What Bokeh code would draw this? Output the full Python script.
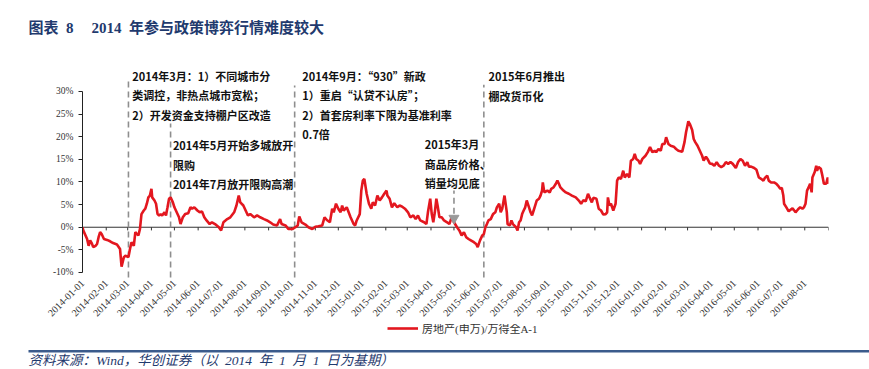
import math
import pandas as pd
from bokeh.plotting import figure
from bokeh.layouts import column
from bokeh.models import (Label, Range1d, FixedTicker, DatetimeTickFormatter,
                          PrintfTickFormatter, Legend, LegendItem)
from bokeh.embed import file_html
from bokeh.resources import INLINE

# ---------------- data ----------------
dates = [
    "2014-01-01", "2014-01-02", "2014-01-07", "2014-01-09", "2014-01-11", "2014-01-13", "2014-01-15", "2014-01-18",
    "2014-01-20", "2014-01-22", "2014-01-24", "2014-01-26", "2014-01-29", "2014-02-02", "2014-02-06", "2014-02-10",
    "2014-02-15", "2014-02-17", "2014-02-19", "2014-02-21", "2014-02-24", "2014-02-26", "2014-03-02", "2014-03-04",
    "2014-03-06", "2014-03-09", "2014-03-11", "2014-03-13", "2014-03-15", "2014-03-17", "2014-03-19", "2014-03-22",
    "2014-03-24", "2014-03-26", "2014-03-28", "2014-03-30", "2014-04-01", "2014-04-02", "2014-04-05", "2014-04-07",
    "2014-04-09", "2014-04-11", "2014-04-13", "2014-04-15", "2014-04-18", "2014-04-20", "2014-04-22", "2014-04-24",
    "2014-04-26", "2014-04-29", "2014-05-01", "2014-05-04", "2014-05-07", "2014-05-09", "2014-05-12", "2014-05-15",
    "2014-05-19", "2014-05-22", "2014-05-24", "2014-05-27", "2014-05-31", "2014-06-03", "2014-06-06", "2014-06-09",
    "2014-06-12", "2014-06-16", "2014-06-19", "2014-06-23", "2014-06-28", "2014-07-01", "2014-07-04", "2014-07-09",
    "2014-07-13", "2014-07-18", "2014-07-21", "2014-07-24", "2014-07-26", "2014-07-30", "2014-08-02", "2014-08-05",
    "2014-08-08", "2014-08-13", "2014-08-17", "2014-08-21", "2014-08-26", "2014-08-30", "2014-09-03", "2014-09-07",
    "2014-09-12", "2014-09-16", "2014-09-18", "2014-09-23", "2014-09-27", "2014-10-02", "2014-10-06", "2014-10-09",
    "2014-10-11", "2014-10-14", "2014-10-19", "2014-10-23", "2014-10-28", "2014-11-01", "2014-11-05", "2014-11-10",
    "2014-11-13", "2014-11-16", "2014-11-20", "2014-11-23", "2014-11-25", "2014-11-28", "2014-12-01", "2014-12-04",
    "2014-12-06", "2014-12-08", "2014-12-12", "2014-12-17", "2014-12-21", "2014-12-23", "2014-12-25", "2014-12-29",
    "2014-12-31", "2015-01-02", "2015-01-04", "2015-01-07", "2015-01-10", "2015-01-13", "2015-01-15", "2015-01-18",
    "2015-01-21", "2015-01-24", "2015-01-27", "2015-01-30", "2015-02-02", "2015-02-03", "2015-02-06", "2015-02-09",
    "2015-02-12", "2015-02-16", "2015-02-19", "2015-02-22", "2015-02-26", "2015-03-02", "2015-03-05", "2015-03-09",
    "2015-03-12", "2015-03-15", "2015-03-18", "2015-03-23", "2015-03-26", "2015-03-28", "2015-03-31", "2015-04-02",
    "2015-04-04", "2015-04-06", "2015-04-08", "2015-04-10", "2015-04-12", "2015-04-15", "2015-04-18", "2015-04-22",
    "2015-04-25", "2015-04-28", "2015-05-01", "2015-05-05", "2015-05-08", "2015-05-11", "2015-05-14", "2015-05-17",
    "2015-05-20", "2015-05-23", "2015-05-27", "2015-05-30", "2015-06-01", "2015-06-04", "2015-06-07", "2015-06-09",
    "2015-06-11", "2015-06-13", "2015-06-15", "2015-06-18", "2015-06-21", "2015-06-24", "2015-06-26", "2015-06-29",
    "2015-07-01", "2015-07-03", "2015-07-06", "2015-07-09", "2015-07-10", "2015-07-13", "2015-07-15", "2015-07-17",
    "2015-07-21", "2015-07-23", "2015-07-25", "2015-07-27", "2015-07-29", "2015-07-31", "2015-08-02", "2015-08-04",
    "2015-08-07", "2015-08-09", "2015-08-11", "2015-08-13", "2015-08-15", "2015-08-17", "2015-08-20", "2015-08-22",
    "2015-08-24", "2015-08-25", "2015-08-27", "2015-08-31", "2015-09-03", "2015-09-05", "2015-09-08", "2015-09-11",
    "2015-09-13", "2015-09-15", "2015-09-17", "2015-09-21", "2015-09-24", "2015-09-28", "2015-10-02", "2015-10-07",
    "2015-10-11", "2015-10-14", "2015-10-17", "2015-10-20", "2015-10-23", "2015-10-25", "2015-10-28", "2015-10-30",
    "2015-11-03", "2015-11-06", "2015-11-09", "2015-11-12", "2015-11-15", "2015-11-17", "2015-11-18", "2015-11-20",
    "2015-11-22", "2015-11-25", "2015-11-28", "2015-11-30", "2015-12-02", "2015-12-05", "2015-12-08", "2015-12-10",
    "2015-12-13", "2015-12-16", "2015-12-18", "2015-12-21", "2015-12-23", "2015-12-25", "2015-12-28", "2015-12-30",
    "2016-01-02", "2016-01-06", "2016-01-09", "2016-01-12", "2016-01-15", "2016-01-18", "2016-01-20", "2016-01-23",
    "2016-01-26", "2016-01-28", "2016-01-31", "2016-02-02", "2016-02-05", "2016-02-08", "2016-02-12", "2016-02-15",
    "2016-02-18", "2016-02-23", "2016-02-26", "2016-02-28", "2016-03-02", "2016-03-04", "2016-03-07", "2016-03-09",
    "2016-03-11", "2016-03-14", "2016-03-17", "2016-03-20", "2016-03-22", "2016-03-25", "2016-03-27", "2016-03-30",
    "2016-04-02", "2016-04-05", "2016-04-08", "2016-04-11", "2016-04-14", "2016-04-17", "2016-04-20", "2016-04-23",
    "2016-04-26", "2016-04-29", "2016-05-03", "2016-05-06", "2016-05-09", "2016-05-12", "2016-05-15", "2016-05-18",
    "2016-05-20", "2016-05-23", "2016-05-27", "2016-05-30", "2016-06-02", "2016-06-05", "2016-06-08", "2016-06-10",
    "2016-06-13", "2016-06-15", "2016-06-18", "2016-06-22", "2016-06-25", "2016-06-27", "2016-06-30", "2016-07-02",
    "2016-07-04", "2016-07-05", "2016-07-08", "2016-07-11", "2016-07-13", "2016-07-16", "2016-07-20", "2016-07-22",
    "2016-07-24", "2016-07-26", "2016-07-29", "2016-07-31", "2016-08-02", "2016-08-04", "2016-08-06", "2016-08-08",
    "2016-08-10", "2016-08-11", "2016-08-14", "2016-08-16", "2016-08-17", "2016-08-19", "2016-08-22", "2016-08-24",
    "2016-08-26", "2016-08-29", "2016-08-31", "2016-09-01",
]
ratio = [
    0.0, -0.7, -2.6, -4.1, -2.9, -3.5, -4.4, -4.1,
    -3.7, -2.2, -1.1, -1.5, -2.6, -2.8, -3.1, -3.5,
    -3.8, -4.3, -4.8, -8.7, -6.6, -6.3, -6.6, -4.8,
    -3.3, -4.1, -1.1, -1.5, -1.8, -0.4, 2.9, 3.7,
    4.1, 5.2, 6.6, 7.0, 8.5, 6.6, 5.9, 5.2,
    2.9, 2.6, 2.9, 2.6, 3.3, 2.6, 4.4, 6.3,
    6.6, 5.5, 4.4, 3.3, 2.2, 0.7, 2.2, 2.9,
    3.1, 4.4, 4.1, 4.4, 3.7, 3.3, 3.5, 2.2,
    1.5, 0.7, 1.1, 0.7, 0.0, -0.7, 1.1, 1.8,
    2.2, 3.3, 4.8, 7.0, 5.5, 4.8, 3.7, 2.6,
    2.9, 2.2, 2.6, 2.2, 1.8, 1.5, 1.1, 0.6,
    0.4, 1.8, 0.7, 0.4, -0.4, -0.4, 0.0, 0.4,
    2.4, 1.1, 0.6, 0.0, -0.4, 0.1, 0.2, 0.4,
    2.2, 1.6, 1.1, 4.1, 3.3, 5.2, 4.1, 3.3,
    4.8, 3.7, 4.4, 2.2, 0.7, 0.4, 1.5, 2.9,
    8.1, 10.3, 10.7, 7.4, 5.2, 4.1, 5.5, 4.8,
    7.0, 5.9, 6.6, 7.4, 8.1, 7.0, 6.3, 4.4,
    5.3, 4.4, 4.8, 4.6, 4.1, 3.3, 2.2, 2.6,
    1.8, 2.6, 1.5, 1.1, 0.7, 3.3, 6.3, 2.9,
    1.1, 3.3, 6.3, 4.4, 2.2, 2.2, 1.5, 1.1,
    0.7, 2.2, 1.1, 0.0, -0.7, -1.8, -1.1, -2.2,
    -2.6, -2.9, -3.3, -3.7, -4.4, -2.9, -1.8, -1.5,
    0.0, 0.7, 1.5, 1.8, 2.9, 3.3, 4.4, 5.2,
    3.3, 4.1, 7.0, 3.3, 0.7, 0.4, 1.5, 0.7,
    0.0, -0.7, 1.1, 1.5, 2.9, 3.7, 4.4, 5.9,
    4.4, 3.3, 2.6, 3.7, 4.8, 5.9, 6.3, 7.0,
    8.1, 9.9, 7.7, 8.1, 7.7, 8.5, 8.8, 9.6,
    10.3, 9.6, 8.8, 8.1, 7.7, 7.4, 7.0, 6.6,
    5.9, 5.2, 6.0, 5.7, 7.4, 6.6, 5.5, 6.5,
    6.3, 4.1, 3.7, 2.8, 2.9, 3.3, 6.6, 4.8,
    5.2, 3.7, 5.2, 10.3, 11.0, 10.7, 12.5, 11.0,
    11.8, 11.0, 14.7, 15.1, 16.2, 15.1, 14.7, 14.0,
    15.1, 15.8, 16.6, 17.7, 16.6, 16.9, 16.6, 17.3,
    16.9, 18.4, 18.4, 19.9, 18.4, 18.0, 17.8, 17.3,
    16.9, 16.7, 18.8, 21.0, 23.4, 22.8, 21.5, 19.5,
    18.8, 18.0, 16.9, 15.8, 14.7, 15.6, 15.1, 14.1,
    14.0, 13.6, 14.4, 13.6, 13.3, 13.6, 14.4, 14.0,
    14.4, 14.0, 13.1, 14.4, 15.1, 14.7, 13.6, 14.4,
    13.4, 13.4, 13.1, 12.7, 11.0, 10.7, 10.3, 10.9,
    11.4, 10.3, 9.9, 9.9, 9.6, 9.2, 8.5, 8.7,
    7.0, 5.2, 4.4, 3.5, 3.8, 4.2, 3.3, 3.7,
    4.1, 4.4, 4.1, 4.4, 5.2, 8.1, 8.8, 9.6,
    7.7, 11.0, 12.2, 13.6, 12.5, 13.3, 12.9, 11.4,
    9.6, 9.6, 11.0, 9.6,
]
series_name = "房地产(申万)/万得全A-1"

month_ticks = [
    "2014-01-01", "2014-02-01", "2014-03-01", "2014-04-01", "2014-05-01", "2014-06-01", "2014-07-01", "2014-08-01",
    "2014-09-01", "2014-10-01", "2014-11-01", "2014-12-01", "2015-01-01", "2015-02-01", "2015-03-01", "2015-04-01",
    "2015-05-01", "2015-06-01", "2015-07-01", "2015-08-01", "2015-09-01", "2015-10-01", "2015-11-01", "2015-12-01",
    "2016-01-01", "2016-02-01", "2016-03-01", "2016-04-01", "2016-05-01", "2016-06-01", "2016-07-01", "2016-08-01",
]
axis_start = "2014-01-01"
axis_end = "2016-09-01"
y_ticks = [-10, -5, 0, 5, 10, 15, 20, 25, 30]

# policy events: dashed markers (date, top of the dashed line in %)
event_dates = ["2014-03-02", "2014-04-26", "2014-10-05", "2015-06-09"]
event_tops = [32.4, 22.9, 31.3, 31.5]
bottom_date = "2015-05-01"

title_text = "图表\u20028\u3000\u20092014\u2002年参与政策博弈行情难度较大"
source_note = "资料来源：Wind，华创证券（以\u20022014\u2002年\u20021\u2002月\u20021\u2002日为基期）"

# annotation blocks: (date anchor, [(text, y%)])
notes = [
    ("2014-03-07", [("2014年3月：1）不同城市分", 33.5), ("类调控，非热点城市宽松；", 29.2), ("2）开发资金支持棚户区改造", 24.9)]),
    ("2014-04-29", [("2014年5月开始多城放开", 18.1), ("限购", 13.7), ("2014年7月放开限购高潮", 9.5)]),
    ("2014-10-15", [("2014年9月：“930”新政", 33.5), ("1）重启“认贷不认房”；", 29.2), ("2）首套房利率下限为基准利率", 24.9), ("0.7倍", 20.6)]),
    ("2015-06-15", [("2015年6月推出", 33.4), ("棚改货币化", 29.0)]),
    ("2015-03-24", [("2015年3月", 18.3), ("商品房价格、", 14.0), ("销量均见底", 9.7)]),
]


def ms(s):
    return pd.Timestamp(s).value // 10**6


x = [pd.Timestamp(d) for d in dates]

NAVY = "#1F3A6E"
RED = "#E3171F"
GREY = "#8E8E8E"
SERIF_CJK = "Liberation Serif, Noto Sans CJK SC"
SANS_CJK = "Noto Sans CJK SC"
W = 869


def strip(height):
    """A figure whose frame fills it, 1 data unit = 1 px, y measured from the top."""
    f = figure(width=W, height=height, output_backend="svg", toolbar_location=None,
               x_axis_type=None, y_axis_type=None,
               x_range=Range1d(0, W), y_range=Range1d(height, 0),
               min_border_left=0, min_border_right=0, min_border_top=0, min_border_bottom=0)
    f.frame_align = False
    f.outline_line_color = None
    f.background_fill_color = "white"
    f.border_fill_color = "white"
    return f


# ---------------- title strip ----------------
top = strip(45)
top.add_layout(Label(x=28, y=27, text=title_text, text_font=SERIF_CJK, text_font_size="15px",
                     text_font_style="bold", text_color=NAVY, text_baseline="middle"))

# ---------------- main chart ----------------
p = figure(width=W, height=279, x_axis_type="datetime", output_backend="svg",
           toolbar_location=None,
           x_range=Range1d(ms(axis_start), ms(axis_end)),
           y_range=Range1d(-11.33, 36.63),
           min_border_left=82, min_border_right=41, min_border_top=16, min_border_bottom=46)
p.frame_align = False
p.outline_line_color = None
p.xgrid.visible = False
p.ygrid.visible = False
p.background_fill_color = "white"
p.border_fill_color = "white"

yax = p.yaxis[0]
yax.ticker = FixedTicker(ticks=y_ticks)
yax.formatter = PrintfTickFormatter(format="%d%%")
yax.bounds = (-10, 30)
yax.axis_line_color = "#222222"
yax.major_tick_line_color = "#222222"
yax.major_tick_out = 4
yax.major_tick_in = 0
yax.minor_tick_line_color = None
yax.major_label_text_font = "Liberation Serif"
yax.major_label_text_font_size = "9.5px"
yax.major_label_text_color = "#333333"
yax.major_label_standoff = 5

xax = p.xaxis[0]
xax.ticker = FixedTicker(ticks=[ms(d) for d in month_ticks])
fmt = "%Y-%m-%d"
xax.formatter = DatetimeTickFormatter(milliseconds=fmt, seconds=fmt, minsec=fmt, minutes=fmt, hourmin=fmt,
                                      hours=fmt, days=fmt, months=fmt, years=fmt)
xax.major_label_orientation = math.pi / 4
xax.axis_line_color = None
xax.major_tick_line_color = None
xax.major_tick_out = 0
xax.major_tick_in = 0
xax.minor_tick_line_color = None
xax.minor_tick_out = 0
xax.major_label_text_font = "Liberation Serif"
xax.major_label_text_font_size = "10px"
xax.major_label_text_color = "#333333"
xax.major_label_standoff = 3

# zero line with monthly ticks
tick_x = [pd.Timestamp(d) for d in month_ticks + [axis_end]]
p.line(x=[pd.Timestamp(axis_start), pd.Timestamp(axis_end)], y=[0, 0], line_color="#333333", line_width=1)
p.segment(x0=tick_x, y0=[0] * len(tick_x), x1=tick_x, y1=[-0.7] * len(tick_x),
          line_color="#333333", line_width=1)

# dashed event lines
ev_x = [pd.Timestamp(d) for d in event_dates]
p.segment(x0=ev_x, y0=[-11.1] * len(ev_x), x1=ev_x, y1=event_tops,
          line_color=GREY, line_width=1.6, line_dash="6 4")
bx = pd.Timestamp(bottom_date)
p.segment(x0=[bx], y0=[3.0], x1=[bx], y1=[8.1], line_color=GREY, line_width=1.6, line_dash="6 4")

# series
p.line(x=x, y=ratio, line_color=RED, line_width=2.6)

p.scatter(x=[bx], y=[2.0], marker="inverted_triangle", size=10,
          fill_color="#9A9A9A", line_color="#9A9A9A")

for d, lines in notes:
    for txt, yv in lines:
        p.add_layout(Label(x=ms(d), y=yv, text=txt, text_font=SANS_CJK, text_font_size="11px",
                           text_font_style="bold", text_color="#111111", text_baseline="middle",
                           text_align="left"))

# ---------------- legend + source strip ----------------
bot = strip(45)
# legend key renderer: same style as the series, no visible points of its own
key = bot.line(x=[float("nan")], y=[float("nan")], line_color=RED, line_width=2.6)
legend = Legend(items=[LegendItem(label=series_name, renderers=[key])], location=(387, 33),
                border_line_color=None, background_fill_alpha=0, padding=0, margin=0,
                glyph_width=31, glyph_height=12, label_height=12, label_standoff=4,
                label_text_font=SERIF_CJK, label_text_font_size="11px", label_text_color="#333333")
bot.add_layout(legend)
bot.line(x=[28, W], y=[26.7, 26.7], line_color="#3B5B8C", line_width=2.5)
bot.add_layout(Label(x=28, y=35.5, text=source_note, text_font=SERIF_CJK, text_font_size="13.5px",
                     text_font_style="italic", text_color=NAVY, text_baseline="middle"))

layout = column(top, p, bot, spacing=0)

open("out.html", "w").write(file_html(layout, INLINE))
